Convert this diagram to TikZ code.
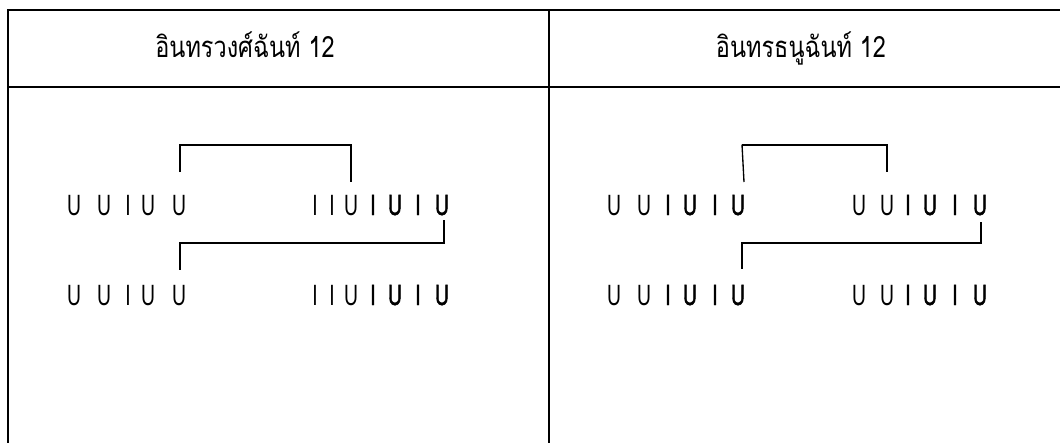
\documentclass[tikz,border=0pt]{standalone}
\usepackage{fontspec}
\newfontfamily\thai[Script=Thai,FakeStretch=0.8]{Loma}
\newfontfamily\uthin[FakeStretch=0.66]{Liberation Sans}
\newfontfamily\uthick[FakeStretch=0.66,FakeBold=1.6]{Liberation Sans}
\begin{document}
\begin{tikzpicture}[x=0.75pt,y=-0.75pt,
  rule/.style={line width=1.5pt},
  br/.style={line width=1pt},
  head/.style={font=\thai\fontsize{22pt}{26pt}\selectfont, inner sep=0pt, anchor=base},
  th/.style={font=\uthin\fontsize{22pt}{26pt}\selectfont, inner sep=0pt, anchor=base},
  tk/.style={font=\uthick\fontsize{22pt}{26pt}\selectfont, inner sep=0pt, anchor=base}]
\useasboundingbox (0,0) rectangle (1060,443);
% table
\draw[rule] (1060,10) -- (7.5,10) -- (7.5,443);
\draw[rule] (7.5,87) -- (1060,87);
\draw[rule] (549,10) -- (549,443);
% headers
\node[head] (h1) at (245,57) {อินทรวงศ์ฉันท์ 12};
\node[head] (h2) at (801,57) {อินทรธนูฉันท์ 12};
% glyph rows
\foreach \r/\y in {1/215,2/305}{
  \foreach \n/\x/\g/\s in {1/74/U/th,2/104/U/th,3/128/I/th,4/148/U/th,5/179/U/th}
    \node[\s] (A\r-\n) at (\x,\y) {\g};
  \foreach \n/\x/\g/\s in {1/315/I/th,2/332/I/th,3/351/U/th,4/373/I/tk,5/395/U/tk,6/418/I/tk,7/442/U/tk}
    \node[\s] (B\r-\n) at (\x,\y) {\g};
  \foreach \n/\x/\g/\s in {1/614/U/th,2/644/U/th,3/668/I/tk,4/690/U/tk,5/715/I/tk,6/738/U/tk}
    \node[\s] (C\r-\n) at (\x,\y) {\g};
  \foreach \n/\x/\g/\s in {1/859/U/th,2/887/U/th,3/908/I/tk,4/930/U/tk,5/955/I/tk,6/980/U/tk}
    \node[\s] (D\r-\n) at (\x,\y) {\g};
}
% brackets left
\draw[br] ([xshift=0.75pt]A1-5 |- 0,172) -- ([xshift=0.75pt]A1-5 |- 0,145) -| (B1-3 |- 0,182);
\draw[br] ([xshift=1.5pt]B1-7 |- 0,220) -- ([xshift=1.5pt]B1-7 |- 0,243) -| ([xshift=0.75pt]A2-5 |- 0,270);
% brackets right
\coordinate (rtl) at ([xshift=3pt]C1-6 |- 0,145);
\draw[br] (rtl) -| (D1-2 |- 0,172);
\draw[br] ([xshift=4.5pt]C1-6 |- 0,182) -- ([yshift=0.3pt]rtl);
\draw[br] ([xshift=0.75pt]D1-6 |- 0,222) -- ([xshift=0.75pt]D1-6 |- 0,243) -| ([xshift=3pt]C2-6 |- 0,269);
\end{tikzpicture}
\end{document}
